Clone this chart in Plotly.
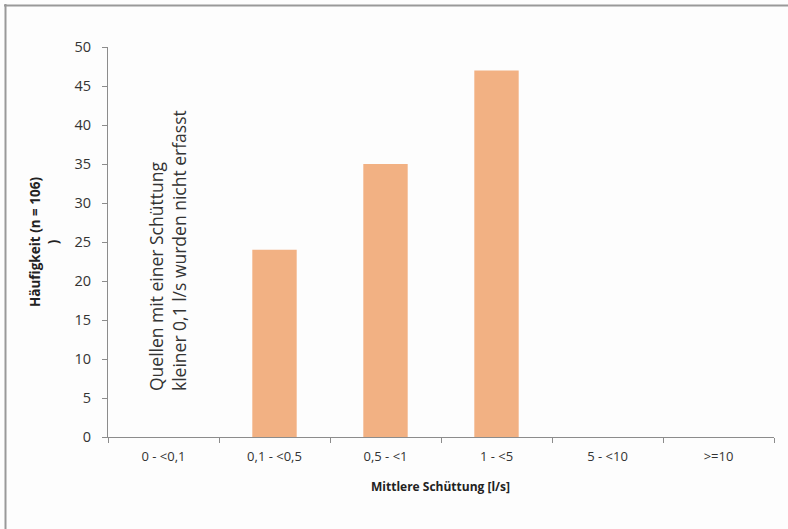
import plotly.graph_objects as go

categories = ["0 - <0,1", "0,1 - <0,5", "0,5 - <1", "1 - <5", "5 - <10", ">=10"]
counts = [0, 24, 35, 47, 0, 0]
y_ticks = [0, 5, 10, 15, 20, 25, 30, 35, 40, 45, 50]

W, H = 788, 529
L, R, T, B = 108, 14, 47, 92
pw, ph = W - L - R, H - T - B

def px_x(p):
    return (p - L) / pw

def px_y(p):
    return (H - B - p) / ph

font_main = "Open Sans, Liberation Sans, sans-serif"

fig = go.Figure(go.Bar(
    x=categories, y=counts,
    marker=dict(color="#F2B183", line=dict(width=0)),
    hoverinfo="x+y",
))

fig.update_layout(
    width=W, height=H,
    margin=dict(l=L, r=R, t=T, b=B, pad=0),
    paper_bgcolor="#fdfdfd", plot_bgcolor="#fdfdfd",
    bargap=0.6,
    showlegend=False,
    font=dict(family=font_main, color="#333333"),
)

fig.update_xaxes(
    type="category", showgrid=False, zeroline=False,
    showline=True, linecolor="#8c8c8c", linewidth=1,
    ticks="outside", ticklen=5, tickcolor="#8c8c8c", tickson="boundaries",
    tickfont=dict(size=13, color="#333333"), ticklabelstandoff=7,
    range=[-0.5, 5.5],
)
fig.update_yaxes(
    range=[0, 50], tickvals=y_ticks, showgrid=False, zeroline=False,
    showline=True, linecolor="#8c8c8c", linewidth=1,
    ticks="outside", ticklen=5, tickcolor="#8c8c8c",
    tickfont=dict(size=14.5, color="#333333"), ticklabelstandoff=8,
)

annotations = [
    dict(text="<b>Häufigkeit (n = 106)<br>)</b>", xref="paper", yref="paper",
         x=px_x(44), y=px_y(242), xanchor="center", yanchor="middle",
         textangle=-90, showarrow=False, font=dict(size=13.5, color="#222222")),
    dict(text="<b>Mittlere Schüttung [l/s]</b>", xref="paper", yref="paper",
         x=px_x(440), y=px_y(486), xanchor="center", yanchor="middle",
         showarrow=False, font=dict(size=12, color="#222222")),
    dict(text="Quellen mit einer Schüttung<br>kleiner 0,1 l/s wurden nicht erfasst",
         xref="paper", yref="paper", x=px_x(168), y=px_y(251),
         xanchor="center", yanchor="middle", align="left",
         textangle=-90, showarrow=False, font=dict(size=17.5, color="#333333")),
]
fig.update_layout(annotations=annotations)

fig.update_layout(shapes=[
    dict(type="line", xref="paper", yref="paper",
         x0=px_x(4), x1=px_x(W), y0=px_y(5.5), y1=px_y(5.5),
         line=dict(color="#999999", width=2)),
    dict(type="line", xref="paper", yref="paper",
         x0=px_x(5.5), x1=px_x(5.5), y0=px_y(4), y1=px_y(H),
         line=dict(color="#999999", width=2)),
])

fig.write_html(
    "out.html",
    config={"displayModeBar": False},
    post_script="document.body.style.margin='0';document.body.style.overflow='hidden';",
)
